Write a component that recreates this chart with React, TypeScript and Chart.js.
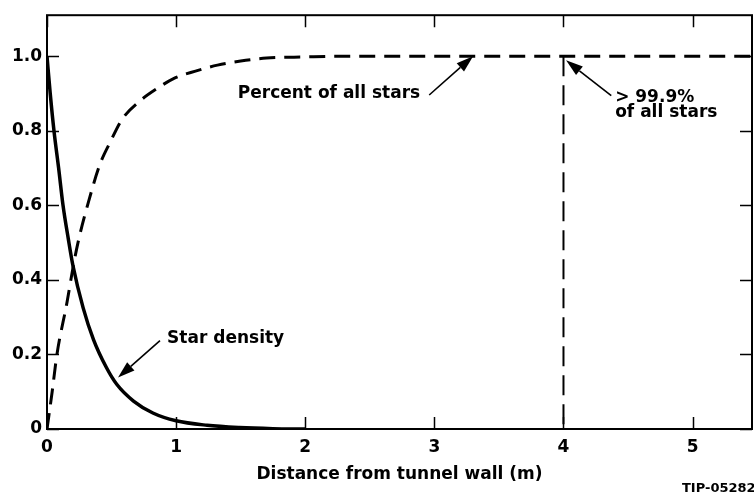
import React, { useEffect, useRef } from "react";
import { Chart, registerables } from "chart.js";

Chart.register(...registerables);

// Star density (solid curve)
const densityX = [0, 0.025, 0.054, 0.09, 0.124, 0.165, 0.2, 0.28, 0.36, 0.46, 0.54, 0.67, 0.82, 1.0, 1.24, 1.49, 1.75, 2.0];
const densityY = [1.0, 0.9, 0.8, 0.7, 0.6, 0.51, 0.44, 0.325, 0.24, 0.165, 0.12, 0.075, 0.043, 0.022, 0.01, 0.004, 0.001, 0.0];

// Percent of all stars (dashed curve)
const percentX = [0, 0.04, 0.077, 0.155, 0.2, 0.24, 0.33, 0.41, 0.49, 0.58, 0.72, 0.86, 0.98, 1.15, 1.32, 1.5, 1.7, 2.0, 2.3, 5.46];
const percentY = [0, 0.1, 0.2, 0.34, 0.43, 0.5, 0.62, 0.71, 0.77, 0.83, 0.88, 0.915, 0.94, 0.96, 0.976, 0.987, 0.995, 0.998, 1.0, 1.0];

// Vertical marker at 4 m
const markerX = [4, 4];
const markerY = [1.0, 0];

const xTicks = [0, 1, 2, 3, 4, 5];
const yTicks = [0, 0.2, 0.4, 0.6, 0.8, 1.0];
const yTickLabels = ["0", "0.2", "0.4", "0.6", "0.8", "1.0"];

const xTitle = "Distance from tunnel wall (m)";
const footer = "TIP-05282";

const FONT = "'DejaVu Sans', Verdana, sans-serif";

type Note = {
  lines: string[];
  tx: number;
  ty: number;
  align: CanvasTextAlign;
  ax0: number;
  ay0: number;
  ax1: number;
  ay1: number;
};

const notes: Note[] = [
  { lines: ["Percent of all stars"], tx: 2.89, ty: 0.9, align: "right", ax0: 2.96, ay0: 0.896, ax1: 3.3, ay1: 1.0 },
  { lines: ["> 99.9%", "of all stars"], tx: 4.4, ty: 0.888, align: "left", ax0: 4.37, ay0: 0.894, ax1: 4.02, ay1: 0.989 },
  { lines: ["Star density"], tx: 0.93, ty: 0.242, align: "left", ax0: 0.875, ay0: 0.237, ax1: 0.55, ay1: 0.138 },
];

const pts = (xs: number[], ys: number[]) => xs.map((x, i) => ({ x, y: ys[i] }));

const framePlugin = {
  id: "frame",
  afterDraw(chart: any) {
    const { ctx, chartArea: a, scales } = chart;
    const xs = scales.x;
    const ys = scales.y;
    ctx.save();
    ctx.strokeStyle = "#000";
    ctx.lineWidth = 2;
    ctx.strokeRect(a.left, a.top, a.right - a.left, a.bottom - a.top);
    ctx.lineWidth = 1.5;
    const tl = 12;
    ctx.beginPath();
    xTicks.forEach((v) => {
      const px = Math.round(xs.getPixelForValue(v)) + 0.5;
      ctx.moveTo(px, a.bottom);
      ctx.lineTo(px, a.bottom - tl);
      ctx.moveTo(px, a.top);
      ctx.lineTo(px, a.top + tl);
    });
    yTicks.forEach((v) => {
      const py = Math.round(ys.getPixelForValue(v)) + 0.5;
      ctx.moveTo(a.left, py);
      ctx.lineTo(a.left + tl, py);
      ctx.moveTo(a.right, py);
      ctx.lineTo(a.right - tl, py);
    });
    ctx.stroke();

    // annotations
    ctx.fillStyle = "#000";
    ctx.font = `bold 17px ${FONT}`;
    ctx.textBaseline = "middle";
    notes.forEach((n) => {
      ctx.textAlign = n.align;
      const tx = xs.getPixelForValue(n.tx);
      const ty = ys.getPixelForValue(n.ty);
      n.lines.forEach((l, i) => ctx.fillText(l, tx, ty + i * 15));
      const x0 = xs.getPixelForValue(n.ax0);
      const y0 = ys.getPixelForValue(n.ay0);
      const x1 = xs.getPixelForValue(n.ax1);
      const y1 = ys.getPixelForValue(n.ay1);
      const ang = Math.atan2(y1 - y0, x1 - x0);
      const hl = 17;
      const hw = 5.5;
      const bx = x1 - hl * Math.cos(ang);
      const by = y1 - hl * Math.sin(ang);
      ctx.lineWidth = 1.6;
      ctx.beginPath();
      ctx.moveTo(x0, y0);
      ctx.lineTo(bx, by);
      ctx.stroke();
      ctx.beginPath();
      ctx.moveTo(x1, y1);
      ctx.lineTo(bx + hw * Math.sin(ang), by - hw * Math.cos(ang));
      ctx.lineTo(bx - hw * Math.sin(ang), by + hw * Math.cos(ang));
      ctx.closePath();
      ctx.fill();
    });

    ctx.font = `bold 13px ${FONT}`;
    ctx.textAlign = "left";
    ctx.textBaseline = "top";
    ctx.fillText(footer, 682, 482);
    ctx.restore();
  },
};

export default function App() {
  const ref = useRef<HTMLCanvasElement | null>(null);
  useEffect(() => {
    if (!ref.current) return;
    const chart = new Chart(ref.current, {
      type: "scatter",
      data: {
        datasets: [
          {
            data: pts(densityX, densityY),
            showLine: true,
            borderColor: "#000",
            borderWidth: 3.5,
            pointRadius: 0,
            cubicInterpolationMode: "monotone",
          },
          {
            data: pts(percentX, percentY),
            showLine: true,
            borderColor: "#000",
            borderWidth: 3,
            borderDash: [16, 9],
            pointRadius: 0,
            cubicInterpolationMode: "monotone",
          },
          {
            data: pts(markerX, markerY),
            showLine: true,
            borderColor: "#000",
            borderWidth: 2,
            borderDash: [20, 9],
            pointRadius: 0,
          },
        ] as any,
      },
      options: {
        animation: false,
        responsive: false,
        layout: { padding: { top: 12, right: 2, left: 0, bottom: 0 } },
        plugins: { legend: { display: false }, tooltip: { enabled: false } },
        scales: {
          x: {
            type: "linear",
            min: 0,
            max: 5.46,
            grid: { display: false, drawTicks: false },
            border: { display: false },
            afterBuildTicks: (s: any) => {
              s.ticks = xTicks.map((v) => ({ value: v }));
            },
            afterFit: (s: any) => {
              s.height = 63;
            },
            ticks: {
              padding: 8,
              color: "#000",
              font: { family: FONT, size: 17, weight: "bold" },
              callback: (v: any) => String(v),
              maxRotation: 0,
            },
            title: {
              display: true,
              text: xTitle,
              color: "#000",
              font: { family: FONT, size: 17, weight: "bold" },
              padding: { top: 0, bottom: 7 },
            },
          },
          y: {
            type: "linear",
            min: 0,
            max: 1.11,
            grid: { display: false, drawTicks: false },
            border: { display: false },
            afterBuildTicks: (s: any) => {
              s.ticks = yTicks.map((v) => ({ value: v }));
            },
            afterFit: (s: any) => {
              s.width = 47;
            },
            ticks: {
              padding: 5,
              color: "#000",
              font: { family: FONT, size: 17, weight: "bold" },
              callback: (v: any) => {
                const i = yTicks.indexOf(Number(v));
                return i >= 0 ? yTickLabels[i] : "";
              },
            },
          },
        },
      },
      plugins: [framePlugin],
    });
    return () => chart.destroy();
  }, []);
  return (
    <div style={{ position: "fixed", left: 0, top: 0, width: 754, height: 492, background: "#fff" }}>
      <canvas ref={ref} width={754} height={492} style={{ width: 754, height: 492 }} />
    </div>
  );
}
